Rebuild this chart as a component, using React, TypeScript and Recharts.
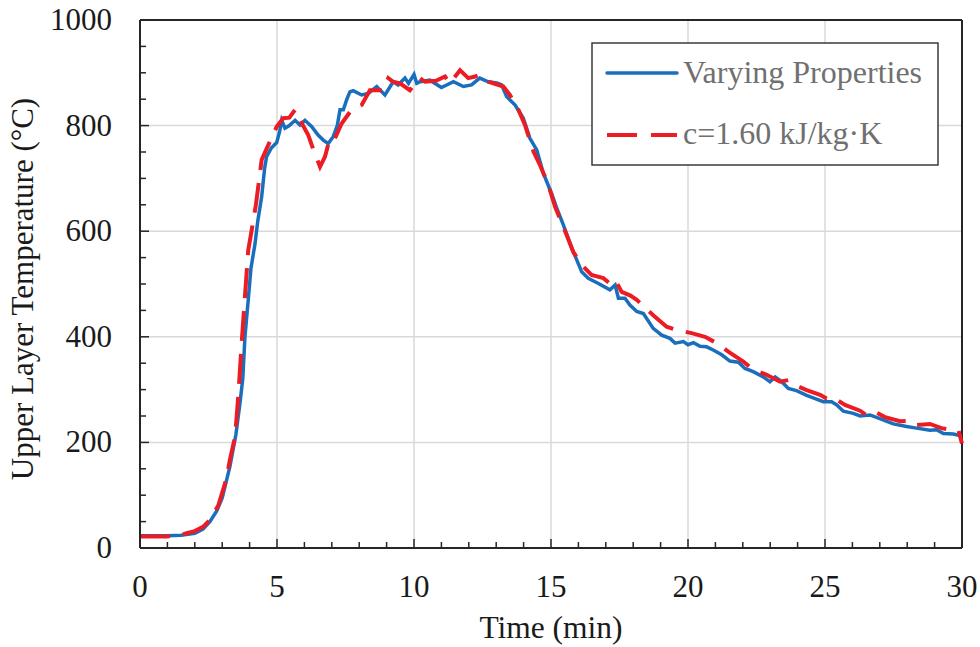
import React from 'react';
import { LineChart, Line, XAxis, YAxis, CartesianGrid, ReferenceLine, Legend, Label } from 'recharts';

const varyingTime = [0, 0.5, 1, 1.5, 2, 2.3, 2.55, 2.8, 3.0, 3.28, 3.5, 3.65, 3.75, 3.83, 3.95, 4.05, 4.2, 4.3, 4.44, 4.55, 4.62, 4.8, 4.99, 5.1, 5.17, 5.29, 5.45, 5.66, 5.84, 6.02, 6.27, 6.5, 6.7, 6.87, 7.05, 7.2, 7.3, 7.42, 7.55, 7.66, 7.78, 8.09, 8.33, 8.64, 8.94, 9.24, 9.42, 9.67, 9.8, 10.0, 10.1, 10.22, 10.58, 11.0, 11.44, 11.8, 12.1, 12.4, 12.71, 13.02, 13.2, 13.38, 13.69, 13.99, 14.23, 14.48, 14.72, 15.03, 15.2, 15.45, 15.76, 16.12, 16.36, 16.73, 17.15, 17.34, 17.46, 17.7, 17.88, 18.13, 18.37, 18.73, 19.04, 19.34, 19.53, 19.83, 20.0, 20.2, 20.44, 20.68, 20.92, 21.23, 21.53, 21.84, 22.08, 22.38, 22.75, 22.99, 23.18, 23.42, 23.66, 23.96, 24.33, 24.64, 24.94, 25.24, 25.43, 25.67, 26.03, 26.28, 26.64, 27.0, 27.49, 27.98, 28.34, 28.83, 29.07, 29.32, 29.68, 30];
const varyingTemp = [23, 23, 23, 24, 28, 36, 50, 70, 95, 154, 215, 275, 320, 400, 470, 530, 577, 620, 665, 720, 741, 758, 768, 790, 810, 795, 800, 810, 801, 810, 798, 782, 772, 766, 779, 800, 830, 830, 850, 864, 866, 858, 861, 874, 858, 883, 877, 890, 880, 897, 880, 883, 886, 872, 883, 874, 877, 890, 883, 881, 877, 855, 839, 814, 776, 754, 710, 670, 645, 612, 568, 523, 511, 501, 489, 498, 473, 473, 460, 448, 444, 416, 403, 397, 388, 391, 385, 389, 382, 381, 375, 366, 354, 352, 340, 334, 324, 315, 324, 315, 302, 298, 289, 283, 277, 277, 271, 259, 255, 250, 252, 245, 235, 230, 227, 223, 224, 217, 216, 212];

const constCpTime = [0, 0.5, 1, 1.5, 1.7, 2.0, 2.3, 2.55, 2.86, 3.16, 3.28, 3.47, 3.59, 3.71, 3.83, 3.95, 4.07, 4.23, 4.44, 4.68, 4.99, 5.23, 5.45, 5.66, 5.9, 6.14, 6.33, 6.57, 6.75, 6.93, 7.1, 7.36, 7.72, 8.09, 8.39, 8.88, 9.06, 9.24, 9.49, 9.85, 10.22, 10.4, 10.8, 11.13, 11.31, 11.68, 11.98, 12.23, 12.4, 12.71, 13.26, 13.5, 13.81, 14.05, 14.36, 14.6, 14.9, 15.15, 15.57, 15.81, 16.12, 16.48, 16.91, 17.15, 17.34, 17.58, 17.9, 18.13, 18.37, 18.73, 19.22, 19.59, 20.13, 20.62, 21.05, 21.47, 22.02, 22.38, 22.87, 23.36, 23.66, 23.9, 24.33, 24.82, 25.06, 25.3, 25.73, 26.28, 26.5, 26.82, 27.19, 27.74, 28.16, 28.34, 28.83, 29.25, 29.68, 29.87, 30];
const constCpTemp = [22, 22, 22, 25, 28, 32, 40, 53, 81, 132, 167, 211, 290, 388, 476, 564, 600, 650, 735, 763, 798, 814, 815, 830, 805, 782, 754, 722, 741, 776, 774, 804, 830, 839, 867, 867, 890, 883, 880, 867, 890, 883, 885, 893, 880, 905, 890, 893, 896, 883, 874, 858, 830, 801, 751, 725, 688, 646, 593, 561, 536, 517, 511, 501, 508, 485, 478, 470, 458, 441, 419, 413, 407, 400, 388, 372, 353, 338, 328, 315, 318, 309, 299, 290, 283, 285, 271, 260, 252, 258, 248, 240, 241, 233, 235, 227, 223, 223, 198];

const xTicks = Array.from({ length: 31 }, (_, i) => i);
const yTicks = Array.from({ length: 21 }, (_, i) => i * 50);
const xGrid = [5, 10, 15, 20, 25];
const yGrid = [200, 400, 600, 800];
const seriesNames = ['Varying Properties', 'c=1.60 kJ/kg\u00b7K'];

const varyingData = varyingTime.map((t, i) => ({ t, v: varyingTemp[i] }));
const constCpData = constCpTime.map((t, i) => ({ t, v: constCpTemp[i] }));

const FONT = '"Liberation Serif", "Times New Roman", Times, serif';
const AXIS = '#262626';
const BLUE = '#1a6fbd';
const RED = '#ec1c24';

const XTick = (props: any) => {
  const { x, y, payload } = props;
  const major = payload.value % 5 === 0;
  return (
    <g>
      <line x1={x} x2={x} y1={y} y2={y - (major ? 9 : 6)} stroke={AXIS} strokeWidth={1.5} />
      {major && (
        <text x={x} y={y + 49} textAnchor="middle" fontFamily={FONT} fontSize={31} fill="#1a1a1a">
          {payload.value}
        </text>
      )}
    </g>
  );
};

const YTick = (props: any) => {
  const { x, y, payload } = props;
  const major = payload.value % 200 === 0;
  return (
    <g>
      <line x1={x} x2={x + (major ? 9 : 6)} y1={y} y2={y} stroke={AXIS} strokeWidth={1.5} />
      {major && (
        <text x={x - 28} y={y + 10} textAnchor="end" fontFamily={FONT} fontSize={31} fill="#1a1a1a">
          {payload.value}
        </text>
      )}
    </g>
  );
};

const LegendBox = () => (
  <svg width={348} height={124} style={{ display: 'block' }}>
    <rect x={1} y={1} width={346} height={122} fill="#ffffff" stroke="#3a3a3a" strokeWidth={1.5} />
    <line x1={16} x2={86} y1={31} y2={31} stroke={BLUE} strokeWidth={3.5} strokeLinecap="round" />
    <line x1={16} x2={86} y1={93} y2={93} stroke={RED} strokeWidth={4} strokeDasharray="30 14" />
    <text x={92} y={41} fontFamily={FONT} fontSize={32} fill="#707070">{seriesNames[0]}</text>
    <text x={92} y={102} fontFamily={FONT} fontSize={32} fill="#707070">{seriesNames[1]}</text>
  </svg>
);

export default function App() {
  return (
    <div style={{ position: 'absolute', left: 0, top: 0, width: 980, height: 647, background: '#fff' }}>
      <LineChart width={980} height={647} margin={{ top: 20, right: 18, bottom: 0, left: 0 }}>
        <CartesianGrid
          stroke="#d9d9d9"
          strokeWidth={1.5}
          horizontalValues={yGrid}
          verticalValues={xGrid}
        />
        <XAxis
          dataKey="t"
          type="number"
          domain={[0, 30]}
          ticks={xTicks}
          interval={0}
          height={99}
          tickSize={0}
          tickMargin={0}
          tick={<XTick />}
          axisLine={{ stroke: AXIS, strokeWidth: 2 }}
          tickLine={false}
          allowDuplicatedCategory={false}
        >
          <Label
            content={(p: any) => {
              const vb = p.viewBox;
              return (
                <text x={vb.x + vb.width / 2} y={638} textAnchor="middle" fontFamily={FONT} fontSize={31.5} fill="#1a1a1a">
                  Time (min)
                </text>
              );
            }}
          />
        </XAxis>
        <YAxis
          type="number"
          domain={[0, 1000]}
          ticks={yTicks}
          interval={0}
          width={140}
          tickSize={0}
          tickMargin={0}
          tick={<YTick />}
          axisLine={{ stroke: AXIS, strokeWidth: 2 }}
          tickLine={false}
        >
          <Label
            content={(p: any) => {
              const vb = p.viewBox;
              const cx = 33;
              const cy = vb.y + vb.height / 2 + 5;
              return (
                <text x={cx} y={cy} transform={`rotate(-90, ${cx}, ${cy})`} textAnchor="middle" fontFamily={FONT} fontSize={31} fill="#1a1a1a">
                  Upper Layer Temperature (°C)
                </text>
              );
            }}
          />
        </YAxis>
        <ReferenceLine y={1000} stroke={AXIS} strokeWidth={2} />
        <ReferenceLine x={30} stroke={AXIS} strokeWidth={2} />
        <Line
          data={varyingData}
          dataKey="v"
          name={seriesNames[0]}
          type="linear"
          stroke={BLUE}
          strokeWidth={3.5}
          dot={false}
          activeDot={false}
          isAnimationActive={false}
        />
        <Line
          data={constCpData}
          dataKey="v"
          name={seriesNames[1]}
          type="linear"
          stroke={RED}
          strokeWidth={4}
          strokeDasharray="30 13"
          dot={false}
          activeDot={false}
          isAnimationActive={false}
        />
        <Legend
          layout="horizontal"
          verticalAlign="middle"
          align="center"
          content={() => <LegendBox />}
          wrapperStyle={{ position: 'absolute', left: 591, top: 42, width: 348, height: 124 }}
        />
      </LineChart>
    </div>
  );
}
